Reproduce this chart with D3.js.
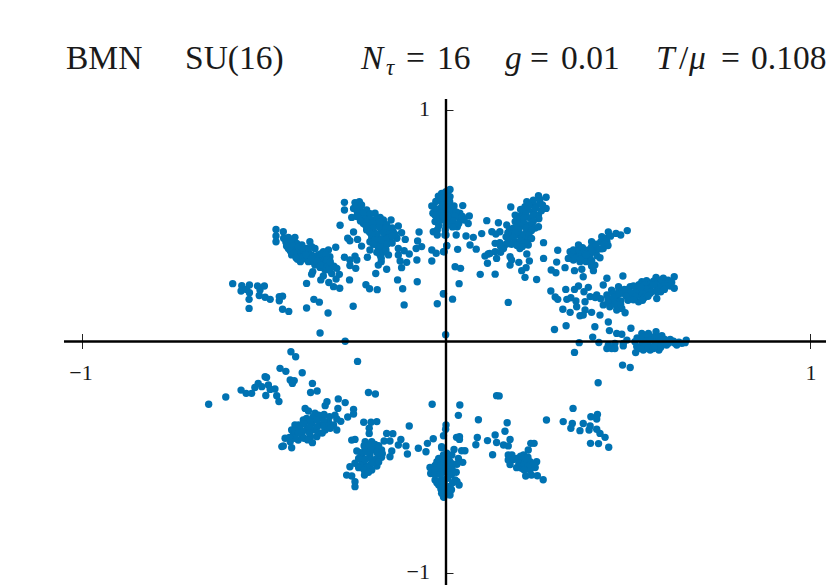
<!DOCTYPE html>
<html><head><meta charset="utf-8">
<script src="https://cdn.jsdelivr.net/npm/d3@7"></script>
<style>html,body{margin:0;padding:0;background:#fff;overflow:hidden}svg{display:block}text{font-family:"Liberation Serif",serif;fill:#1a1a1a}</style>
</head><body><div id="c"></div>
<script>
const axisTicks = [-1, 1];
const farLeftUpper = [[-.586,.250],[-.561,.241],[-.540,.244],[-.563,.218],[-.548,.225],[-.540,.211],[-.541,.182],[-.541,.143],[-.518,.240],[-.499,.240],[-.511,.222],[-.513,.199],[-.497,.191],[-.483,.182],[-.458,.194],[-.449,.196],[-.458,.176],[-.449,.139],[-.432,.130]];
const scatterUpperLeft = [[-.383,.251],[-.383,.145],[-.363,.182],[-.348,.170],[-.324,.123],[-.346,.037],[-.277,.001],[-.255,.152],[-.265,.266],[-.220,.245],[-.210,.228],[-.189,.224],[-.133,.266],[-.119,.228],[-.079,.258],[-.115,.158],[-.024,.163],[-.007,.207],[-.001,.029]];
const armUpperLeft = [[-.467,.484],[-.447,.474],[-.467,.456],[-.467,.431],[-.446,.446],[-.433,.450],[-.415,.450],[-.429,.424],[-.410,.424],[-.396,.417],[-.433,.402],[-.415,.395],[-.396,.395],[-.383,.402],[-.374,.431],[-.369,.410],[-.360,.402],[-.424,.374],[-.406,.374],[-.387,.374],[-.369,.374],[-.351,.374],[-.408,.355],[-.383,.355],[-.360,.352],[-.337,.366],[-.323,.395],[-.303,.407],[-.337,.388],[-.319,.366],[-.341,.345],[-.323,.338],[-.360,.330],[-.346,.320],[-.314,.323],[-.332,.309],[-.366,.302],[-.369,.291],[-.300,.316],[-.314,.294],[-.293,.290],[-.302,.270],[-.337,.283],[-.344,.266],[-.322,.255],[-.309,.237],[-.292,.230]];
const denseUpperLeft = [[-.440,.430],[-.425,.436],[-.438,.412],[-.422,.412],[-.405,.408],[-.428,.392],[-.408,.386],[-.390,.385],[-.418,.380],[-.400,.366],[-.378,.388],[-.392,.364],[-.375,.362],[-.412,.362],[-.378,.345],[-.366,.345],[-.352,.360],[-.345,.378],[-.330,.375],[-.352,.340],[-.338,.332],[-.328,.352],[-.368,.358],[-.355,.348],[-.330,.322],[-.318,.335],[-.345,.330],[-.322,.310],[-.308,.325],[-.318,.345],[-.395,.405],[-.385,.375],[-.400,.345]];
const blobUpperLeft = [[-.279,.601],[-.279,.568],[-.250,.600],[-.238,.604],[-.254,.575],[-.236,.568],[-.218,.568],[-.259,.536],[-.236,.539],[-.218,.539],[-.195,.554],[-.199,.525],[-.181,.536],[-.227,.510],[-.209,.503],[-.190,.503],[-.172,.510],[-.291,.502],[-.218,.482],[-.199,.474],[-.177,.482],[-.158,.482],[-.151,.525],[-.131,.499],[-.254,.473],[-.204,.446],[-.186,.446],[-.167,.453],[-.145,.474],[-.122,.470],[-.112,.441],[-.135,.446],[-.270,.446],[-.264,.435],[-.243,.441],[-.232,.412],[-.209,.431],[-.190,.417],[-.172,.424],[-.154,.438],[-.209,.395],[-.186,.395],[-.167,.402],[-.181,.374],[-.158,.374],[-.131,.402],[-.131,.374],[-.115,.392],[-.101,.378],[-.082,.402],[-.067,.410],[-.078,.434],[-.074,.473],[-.216,.364],[-.279,.364],[-.250,.369],[-.245,.352],[-.264,.352],[-.264,.328],[-.248,.316],[-.126,.348],[-.108,.342],[-.122,.319],[-.080,.352],[-.178,.345],[-.186,.330],[-.193,.294],[-.163,.312]];
const denseBlobUpperLeft = [[-.246,.585],[-.232,.590],[-.244,.560],[-.228,.555],[-.208,.552],[-.245,.540],[-.226,.530],[-.208,.525],[-.190,.528],[-.172,.525],[-.235,.520],[-.218,.515],[-.200,.512],[-.182,.515],[-.163,.505],[-.220,.500],[-.200,.490],[-.182,.492],[-.165,.490],[-.148,.490],[-.210,.472],[-.190,.465],[-.172,.470],[-.155,.465],[-.140,.462],[-.205,.462],[-.195,.440],[-.178,.440],[-.160,.445],[-.148,.455],[-.200,.420],[-.180,.410],[-.162,.420],[-.148,.425],[-.190,.385],[-.172,.385],[-.178,.360],[-.165,.395]];
const topCentre = [[-.039,.395],[-.027,.381],[-.005,.388],[-.039,.348],[.002,.414],[-.035,.474],[-.024,.482],[-.024,.460],[-.039,.585],[-.021,.628],[-.036,.554],[-.030,.518],[-.012,.640],[0,.647],[-.016,.611],[.002,.611],[-.016,.575],[.002,.568],[-.016,.539],[.002,.518],[0,.460],[-.002,.482],[.011,.657],[.011,.626],[-.007,.640],[-.012,.604],[.006,.597],[.022,.585],[.046,.587],[-.003,.568],[.016,.554],[-.017,.561],[.038,.554],[.064,.542],[-.012,.525],[.011,.518],[.040,.528],[.061,.510],[.031,.496],[.028,.460],[-.003,.460],[.055,.456],[.075,.450],[.066,.417],[.083,.399],[.002,.414],[.032,.398],[-.007,.388],[.025,.323],[.040,.316],[.036,.250],[-.007,.205],[.018,.183]];
const denseTopCentre = [[-.028,.605],[-.010,.620],[.005,.630],[-.030,.575],[-.010,.590],[.010,.605],[-.030,.545],[-.015,.555],[.000,.580],[.015,.575],[.028,.560],[-.025,.530],[-.008,.540],[.008,.540],[.025,.540],[.045,.540],[-.020,.500],[.000,.500],[.020,.520],[.035,.510],[.050,.525],[.018,.495]];
const blobUpperRight = [[.112,.522],[.144,.513],[.098,.466],[.126,.474],[.137,.464],[.148,.474],[.178,.581],[.222,.604],[.254,.630],[.275,.623],[.275,.575],[.258,.597],[.235,.590],[.217,.582],[.240,.561],[.213,.554],[.190,.546],[.254,.546],[.231,.532],[.208,.525],[.190,.518],[.254,.496],[.226,.503],[.203,.496],[.185,.489],[.167,.503],[.222,.474],[.199,.460],[.181,.460],[.208,.446],[.190,.431],[.226,.417],[.171,.438],[.203,.402],[.158,.402],[.135,.424],[.148,.427],[.135,.388],[.116,.378],[.107,.369],[.114,.338],[.139,.359],[.176,.366],[.180,.352],[.176,.330],[.200,.342],[.222,.378],[.229,.348],[.220,.319],[.208,.306],[.217,.277],[.094,.290],[.135,.291],[.171,.169],[.249,.268],[.268,.427],[.268,.359]];
const denseBlobUpperRight = [[.240,.610],[.258,.615],[.228,.590],[.248,.585],[.265,.590],[.205,.570],[.225,.570],[.245,.575],[.262,.565],[.200,.540],[.220,.550],[.240,.545],[.255,.530],[.195,.530],[.215,.535],[.240,.520],[.215,.510],[.235,.505],[.245,.490],[.195,.510],[.175,.485],[.200,.480],[.220,.490],[.235,.480],[.170,.470],[.190,.470],[.215,.462],[.228,.460],[.165,.452],[.185,.450],[.205,.435],[.225,.440],[.235,.445],[.180,.420],[.195,.415],[.215,.425],[.210,.410],[.165,.420],[.150,.410],[.120,.380],[.150,.385]];
const armUpperRight = [[.498,.479],[.480,.460],[.467,.467],[.446,.473],[.428,.453],[.442,.431],[.400,.431],[.432,.402],[.414,.395],[.391,.395],[.364,.417],[.423,.362],[.377,.374],[.359,.388],[.341,.388],[.336,.359],[.350,.352],[.368,.345],[.391,.359],[.327,.319],[.409,.330],[.307,.394],[.304,.343],[.289,.309],[.302,.297],[.353,.306],[.373,.312],[.405,.306],[.377,.280],[.400,.326]];
const denseArmUpperRight = [[.350,.375],[.365,.370],[.380,.390],[.400,.410],[.412,.420],[.425,.430],[.440,.445],[.452,.455],[.380,.360],[.395,.375],[.410,.385],[.425,.400],[.350,.395],[.365,.395],[.375,.405],[.355,.360],[.370,.355],[.385,.345],[.400,.350],[.400,.390],[.415,.370],[.435,.420],[.445,.415],[.385,.375]];
const armRight = [[.627,.280],[.627,.230],[.616,.240],[.597,.273],[.577,.277],[.551,.263],[.538,.258],[.506,.237],[.486,.283],[.442,.273],[.432,.244],[.474,.237],[.455,.222],[.487,.208],[.524,.230],[.551,.215],[.579,.237],[.597,.237],[.533,.201],[.506,.194],[.469,.186],[.442,.201],[.414,.201],[.396,.194],[.529,.172],[.579,.186],[.561,.208],[.432,.158],[.460,.172],[.483,.143],[.492,.124],[.469,.136],[.423,.114],[.400,.126],[.382,.136],[.368,.111],[.377,.114],[.391,.234],[.379,.215],[.364,.240],[.353,.225],[.329,.225],[.288,.218],[.300,.192],[.307,.182],[.332,.182],[.343,.189],[.357,.175],[.359,.150],[.382,.172],[.321,.139],[.341,.126],[.446,.084],[.409,.064],[.330,.068],[.298,.052],[.449,.047],[.403,.019],[.366,-.005],[.420,-.004]];
const denseArmRight = [[.610,.265],[.595,.250],[.610,.250],[.585,.265],[.570,.260],[.560,.248],[.575,.248],[.590,.232],[.560,.230],[.545,.245],[.530,.245],[.515,.240],[.500,.225],[.535,.222],[.550,.225],[.520,.212],[.505,.212],[.490,.225],[.475,.222],[.460,.208],[.475,.205],[.495,.195],[.520,.195],[.540,.208],[.565,.215],[.580,.215],[.605,.240],[.620,.255],[.570,.245],[.545,.190],[.555,.195],[.445,.185],[.460,.190],[.480,.175],[.500,.178],[.515,.180],[.540,.178],[.425,.185],[.445,.170],[.465,.160],[.480,.160],[.450,.150],[.410,.190],[.590,.215],[.600,.225],[.535,.235]];
const armAxis = [[.469,.035],[.483,.031],[.508,.057],[.538,.035],[.556,.035],[.577,.042],[.593,.025],[.616,.009],[.660,.006],[.648,-.008],[.497,.006],[.519,-.001],[.542,.006],[.570,.006],[.597,-.001],[.629,-.008],[.446,-.015],[.464,-.008],[.487,-.008],[.533,-.022],[.561,-.022],[.588,-.015],[.611,-.008],[.455,-.030],[.442,-.030],[.353,-.047],[.464,-.030],[.487,-.019],[.521,-.048],[.542,-.037],[.561,-.037],[.585,-.037],[.524,-.022],[.551,-.015],[.579,-.015],[.606,-.015],[.634,-.015],[.657,-.005],[.485,-.102],[.506,-.112],[.418,-.178]];
const denseArmAxis = [[.525,.015],[.540,.020],[.555,.020],[.570,.020],[.585,.020],[.600,.010],[.615,-.002],[.625,.001],[.540,-.010],[.550,.000],[.560,.005],[.575,-.005],[.590,.005],[.605,.000],[.640,-.003],[.530,-.030],[.545,-.025],[.555,-.030],[.570,-.030],[.575,-.020],[.590,-.025],[.600,-.005]];
const lowerRight = [[.349,-.289],[.416,-.315],[.398,-.325],[.414,-.335],[.322,-.346],[.347,-.354],[.377,-.354],[.343,-.375],[.368,-.385],[.396,-.365],[.393,-.382],[.414,-.379],[.423,-.397],[.437,-.414],[.397,-.440],[.419,-.441],[.447,-.457],[.276,-.339]];
const armLowerRight = [[.139,-.234],[.146,-.235],[.089,-.338],[.168,-.351],[.135,-.404],[.162,-.388],[.086,-.415],[.082,-.446],[.114,-.428],[.139,-.436],[.176,-.423],[.158,-.447],[.171,-.451],[.233,-.440],[.242,-.440],[.128,-.489],[.226,-.469],[.213,-.490],[.171,-.490],[.181,-.490],[.194,-.505],[.171,-.512],[.176,-.531],[.208,-.512],[.231,-.519],[.249,-.519],[.194,-.545],[.208,-.548],[.245,-.544],[.235,-.541],[.219,-.581],[.235,-.577],[.251,-.580],[.267,-.597],[.231,-.555],[.185,-.510],[.200,-.525],[.215,-.530],[.225,-.500],[.218,-.505],[.205,-.495],[.240,-.530],[.225,-.540],[.215,-.555]];
const bottomCentre = [[.038,-.274],[.034,-.319],[0,-.361],[-.001,-.379],[-.007,-.407],[.029,-.414],[.037,-.411],[.037,-.423],[.022,-.466],[.043,-.472],[.052,-.472],[-.012,-.454],[.016,-.490],[.034,-.505],[.046,-.522],[-.007,-.490],[.011,-.519],[-.012,-.519],[.016,-.548],[.020,-.562],[-.003,-.562],[-.012,-.555],[.025,-.598],[.036,-.620],[.002,-.591],[-.012,-.598],[.011,-.627],[-.003,-.634],[.011,-.663],[-.006,-.673],[-.012,-.642],[-.012,-.459],[.002,-.483],[-.025,-.519],[-.044,-.544],[-.042,-.570],[-.012,-.519],[.007,-.512],[-.016,-.555],[-.030,-.598],[.007,-.570],[-.012,-.598],[.007,-.627],[-.014,-.637],[-.007,-.670],[.002,-.534]];
const denseBottomCentre = [[-.030,-.535],[-.020,-.505],[-.005,-.500],[.008,-.495],[-.030,-.555],[-.015,-.535],[.005,-.525],[.020,-.530],[.030,-.530],[-.030,-.575],[-.015,-.575],[.000,-.555],[.015,-.575],[.028,-.565],[-.025,-.610],[-.005,-.610],[.018,-.610],[.030,-.605],[-.020,-.620],[.000,-.650],[-.012,-.655],[.015,-.640],[.000,-.540],[.005,-.590]];
const scatterLowerLeft = [[-.243,-.086],[-.426,-.044],[-.413,-.066],[-.456,-.116],[-.440,-.129],[-.395,-.135],[-.497,-.152],[-.493,-.155],[-.428,-.166],[-.417,-.169],[-.422,-.181],[-.367,-.181],[-.516,-.181],[-.525,-.199],[-.488,-.188],[-.506,-.195],[-.470,-.205],[-.483,-.207],[-.563,-.210],[-.549,-.224],[-.534,-.224],[-.495,-.233],[-.465,-.234],[-.459,-.259],[-.605,-.240],[-.652,-.271],[-.372,-.220],[-.354,-.214],[-.213,-.220],[-.194,-.227],[-.038,-.271]];
const armLowerLeft = [[-.296,-.248],[-.277,-.264],[-.327,-.260],[-.332,-.277],[-.297,-.289],[-.254,-.293],[-.387,-.289],[-.378,-.300],[-.254,-.313],[-.270,-.326],[-.289,-.345],[-.305,-.318],[-.360,-.310],[-.383,-.332],[-.341,-.332],[-.323,-.346],[-.392,-.339],[-.369,-.354],[-.346,-.361],[-.415,-.361],[-.401,-.375],[-.424,-.382],[-.383,-.382],[-.360,-.382],[-.332,-.382],[-.309,-.361],[-.300,-.382],[-.419,-.404],[-.396,-.404],[-.372,-.411],[-.355,-.411],[-.406,-.426],[-.442,-.418],[-.428,-.433],[-.367,-.437],[-.447,-.451],[-.424,-.459],[-.451,-.454]];
const denseArmLowerLeft = [[-.365,-.325],[-.350,-.318],[-.335,-.315],[-.320,-.325],[-.300,-.335],[-.375,-.345],[-.355,-.340],[-.335,-.345],[-.390,-.355],[-.375,-.370],[-.355,-.370],[-.335,-.365],[-.320,-.362],[-.405,-.360],[-.415,-.385],[-.395,-.390],[-.375,-.395],[-.350,-.395],[-.405,-.395],[-.415,-.418],[-.390,-.418],[-.340,-.395],[-.380,-.425],[-.430,-.415],[-.318,-.375]];
const blobLowerLeft = [[-.226,-.349],[-.206,-.349],[-.190,-.346],[-.211,-.375],[-.211,-.397],[-.163,-.397],[-.146,-.398],[-.124,-.423],[-.170,-.430],[-.154,-.430],[-.101,-.365],[-.051,-.440],[-.035,-.420],[-.259,-.426],[-.250,-.423],[-.131,-.447],[-.110,-.451],[-.149,-.473],[-.076,-.461],[-.055,-.476],[-.106,-.486],[-.154,-.498],[-.245,-.473],[-.222,-.433],[-.204,-.433],[-.222,-.462],[-.195,-.462],[-.177,-.469],[-.209,-.490],[-.232,-.498],[-.190,-.505],[-.177,-.500],[-.250,-.526],[-.264,-.541],[-.227,-.526],[-.209,-.534],[-.190,-.538],[-.204,-.555],[-.224,-.577],[-.273,-.577],[-.259,-.581],[-.250,-.606],[-.250,-.627]];
const denseBlobLowerLeft = [[-.225,-.450],[-.210,-.448],[-.195,-.445],[-.185,-.450],[-.235,-.480],[-.220,-.478],[-.205,-.470],[-.190,-.478],[-.175,-.485],[-.240,-.505],[-.222,-.510],[-.205,-.510],[-.195,-.520],[-.235,-.535],[-.218,-.545],[-.200,-.525],[-.185,-.520],[-.240,-.545],[-.225,-.555],[-.213,-.565]];
const clusters = [farLeftUpper, scatterUpperLeft, armUpperLeft, denseUpperLeft, blobUpperLeft, denseBlobUpperLeft, topCentre, denseTopCentre, blobUpperRight, denseBlobUpperRight, armUpperRight, denseArmUpperRight, armRight, denseArmRight, armAxis, denseArmAxis, lowerRight, armLowerRight, bottomCentre, denseBottomCentre, scatterLowerLeft, armLowerLeft, denseArmLowerLeft, blobLowerLeft, denseBlobLowerLeft];

const W = 826, H = 585, BLUE = "#0072b2", INK = "#000";
const x = d3.scaleLinear().domain([-1, 1]).range([82, 810]);
const y = d3.scaleLinear().domain([-1, 1]).range([573, 110]);
const svg = d3.select("#c").append("svg").attr("width", W).attr("height", H);

svg.append("g").selectAll("circle").data(clusters.flat()).join("circle")
  .attr("cx", d => x(d[0])).attr("cy", d => y(d[1])).attr("r", 3.7).attr("fill", BLUE);

const gx = svg.append("g").attr("transform", `translate(0,${y(0)})`)
  .call(d3.axisBottom(x).tickValues(axisTicks).tickSize(7.5).tickFormat(""));
const gy = svg.append("g").attr("transform", `translate(${x(0)},0)`)
  .call(d3.axisLeft(y).tickValues(axisTicks).tickSize(7.5).tickFormat(""));
gx.select(".domain").remove(); gy.select(".domain").remove();
gx.selectAll(".tick line").attr("y1", -7.5).attr("stroke", "#222").attr("stroke-width", 1);
gy.selectAll(".tick line").attr("x2", 7.5).attr("stroke", "#222").attr("stroke-width", 1);
gx.append("line").attr("x1", x(-1.0495)).attr("x2", W).attr("stroke", INK).attr("stroke-width", 2.4);
gy.append("line").attr("y1", y(1.048)).attr("y2", H).attr("stroke", INK).attr("stroke-width", 2.4);

const fmt = v => v < 0 ? "\u2212" + Math.abs(v) : String(v);
svg.append("g").selectAll("text").data(axisTicks).join("text")
  .attr("x", d => d < 0 ? 81 : 811).attr("y", 380).attr("text-anchor", "middle")
  .attr("font-size", 22).text(fmt);
svg.append("g").selectAll("text").data(axisTicks).join("text")
  .attr("x", 430).attr("y", d => y(d) + 6).attr("text-anchor", "end")
  .attr("font-size", 22).text(fmt);

const title = svg.append("g");
const put = (px, str, italic, size, dy) => title.append("text").attr("x", px).attr("y", 69 + (dy || 0))
  .attr("font-style", italic ? "italic" : "normal").attr("font-size", size || 33.5).text(str);
put(66, "BMN"); put(185, "SU(16)");
put(361, "N", true); put(386, "\u03c4", true, 23, 6); put(406, "="); put(437, "16");
put(505, "g", true); put(530, "="); put(561, "0.01");
put(656, "T", true); put(679, "/"); put(689, "\u03bc", true); put(721, "="); put(751, "0.108");
</script></body></html>
